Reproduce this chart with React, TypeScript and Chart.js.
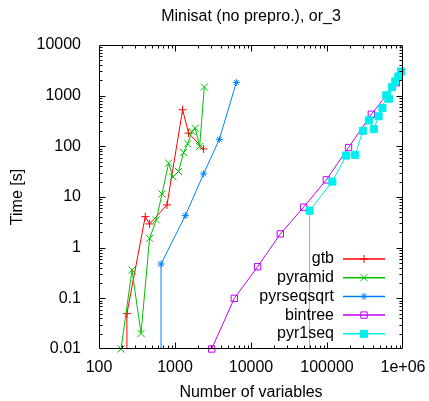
import { useEffect, useRef } from 'react';
import { Chart, registerables } from 'chart.js';
import { drawPoint } from 'chart.js/helpers';

Chart.register(...registerables);

// ---- data ----
const chartTitle = 'Minisat (no prepro.), or_3';
const xTitle = 'Number of variables';
const yTitle = 'Time [s]';

const xTickValues = [100, 1000, 10000, 100000, 1000000];
const xTickLabels = ['100', '1000', '10000', '100000', '1e+06'];
const yTickValues = [0.01, 0.1, 1, 10, 100, 1000, 10000];
const yTickLabels = ['0.01', '0.1', '1', '10', '100', '1000', '10000'];

// value below the plotted range (line runs off the bottom of the plot)
const belowRange = 0.0001;

const gtbX = [233, 406, 463, 785, 1259, 1510, 2377];
const gtbY = [0.05, 4.1, 2.94, 6.98, 526, 182, 89];

const pyramidX = [195, 272, 357, 463, 567, 674, 824, 942, 1114, 1297, 1465, 1675, 1849, 2108, 2431];
const pyramidY = [0.01, 0.362, 0.0203, 1.53, 3.53, 11.5, 46.6, 24.9, 31.8, 75.4, 112, 196, 229, 99, 1479];

const pyrseqsqrtX = [655, 1367, 2377, 3828, 6412];
const pyrseqsqrtY = [0.476, 4.29, 28.6, 137, 1823];

const bintreeX = [3034, 6026, 12220, 24300, 49200, 98000, 192000, 383000, 817000];
const bintreeY = [0.01, 0.1, 0.42, 1.87, 6.3, 21.8, 94.7, 429, 1800];

const pyr1seqX = [59000, 117500, 179000, 235000, 296000, 355000, 413000, 478000, 537000, 603000, 654000, 716000, 792000, 868000, 944000];
const pyr1seqY = [5.38, 20.1, 65.8, 67.9, 202, 326, 219, 392, 569, 1018, 869, 1466, 1909, 2396, 3008];

const seriesNames = ['gtb', 'pyramid', 'pyrseqsqrt', 'bintree', 'pyr1seq'];
const seriesColors = ['#ff0000', '#00c000', '#0080ff', '#c000ff', '#00eeee'];

const FONT = '"Liberation Sans", Arial, sans-serif';
const FS = 16;

type Style = { pointStyle: any; radius: number; filled: boolean };
const seriesStyles: Style[] = [
  { pointStyle: 'cross', radius: 4, filled: false },
  { pointStyle: 'crossRot', radius: 5, filled: false },
  { pointStyle: 'star', radius: 3.5, filled: false },
  { pointStyle: 'rect', radius: 4.5, filled: false },
  { pointStyle: 'rect', radius: 5, filled: true },
];

const pts = (xs: number[], ys: number[]) => xs.map((x, i) => ({ x, y: ys[i] }));

const decoPlugin = {
  id: 'gnuplotDeco',
  afterDraw(chart: any) {
    const { ctx, chartArea } = chart;
    const { left, right, top, bottom } = chartArea;
    const xs = chart.scales.x;
    const ys = chart.scales.y;
    ctx.save();
    ctx.strokeStyle = '#000';
    ctx.lineWidth = 1;
    const L = Math.round(left) + 0.5;
    const R = Math.round(right) - 0.5;
    const T = Math.round(top) + 0.5;
    const B = Math.round(bottom) - 0.5;
    ctx.beginPath();
    ctx.rect(L, T, R - L, B - T);
    ctx.stroke();

    // ticks
    ctx.beginPath();
    for (let d = 100; d <= 1000000; d *= 10) {
      for (let m = 1; m <= 9; m++) {
        const v = d * m;
        if (v > 1000000) break;
        const len = m === 1 ? 6 : 3;
        const px = Math.round(xs.getPixelForValue(v)) + 0.5;
        if (px <= L + 0.1 || px >= R - 0.1) continue;
        ctx.moveTo(px, B);
        ctx.lineTo(px, B - len);
        ctx.moveTo(px, T);
        ctx.lineTo(px, T + len);
      }
    }
    for (let d = 0.01; d <= 10000; d *= 10) {
      for (let m = 1; m <= 9; m++) {
        const v = d * m;
        if (v > 10001) break;
        const len = m === 1 ? 6 : 3;
        const py = Math.round(ys.getPixelForValue(v)) + 0.5;
        if (py <= T + 0.1 || py >= B - 0.1) continue;
        ctx.moveTo(L, py);
        ctx.lineTo(L + len, py);
        ctx.moveTo(R, py);
        ctx.lineTo(R - len, py);
      }
    }
    ctx.stroke();

    // titles
    ctx.fillStyle = '#000';
    ctx.font = `${FS}px ${FONT}`;
    ctx.textAlign = 'center';
    ctx.textBaseline = 'middle';
    const cx = (left + right) / 2;
    ctx.fillText(chartTitle, cx, 17);
    ctx.fillText(xTitle, cx, 393);
    ctx.save();
    ctx.translate(18, (top + bottom) / 2);
    ctx.rotate(-Math.PI / 2);
    ctx.fillText(yTitle, 0, 0);
    ctx.restore();

    // legend
    const textRight = 334;
    const lineX0 = 343;
    const lineX1 = 385;
    const markX = 364;
    seriesNames.forEach((name, i) => {
      const y = 259 + i * 18.7;
      ctx.fillStyle = '#000';
      ctx.textAlign = 'right';
      ctx.textBaseline = 'middle';
      ctx.fillText(name, textRight, y);
      ctx.strokeStyle = seriesColors[i];
      ctx.lineWidth = 1.5;
      ctx.beginPath();
      ctx.moveTo(lineX0, y);
      ctx.lineTo(lineX1, y);
      ctx.stroke();
      const st = seriesStyles[i];
      ctx.lineWidth = 1;
      ctx.fillStyle = st.filled ? seriesColors[i] : 'rgba(0,0,0,0)';
      ctx.strokeStyle = seriesColors[i];
      drawPoint(ctx, { pointStyle: st.pointStyle, radius: st.radius, rotation: 0, borderWidth: 1 } as any, markX, y);
    });
    ctx.restore();
  },
};

export default function App() {
  const ref = useRef<HTMLCanvasElement | null>(null);
  useEffect(() => {
    if (!ref.current) return;
    const mainSeries = [
      pts(gtbX, gtbY),
      pts(pyramidX, pyramidY),
      pts(pyrseqsqrtX, pyrseqsqrtY),
      pts(bintreeX, bintreeY),
      pts(pyr1seqX, pyr1seqY),
    ];
    // series whose first point lies below the plotted range
    const tails: Record<number, number> = { 0: gtbX[0], 2: pyrseqsqrtX[0], 4: pyr1seqX[0] };
    const datasets: any[] = [];
    mainSeries.forEach((data, i) => {
      const st = seriesStyles[i];
      datasets.push({
        label: seriesNames[i],
        data,
        borderColor: seriesColors[i],
        backgroundColor: seriesColors[i],
        borderWidth: 1,
        pointStyle: st.pointStyle,
        pointRadius: st.radius,
        pointBorderWidth: 1,
        pointBorderColor: seriesColors[i],
        pointBackgroundColor: st.filled ? seriesColors[i] : 'rgba(0,0,0,0)',
        tension: 0,
        clip: false,
        order: 10 - i,
      });
      if (tails[i] !== undefined) {
        datasets.push({
          label: seriesNames[i] + '-tail',
          data: [
            { x: tails[i], y: belowRange },
            data[0],
          ],
          borderColor: seriesColors[i],
          borderWidth: 1,
          pointRadius: 0,
          order: 20 - i,
        });
      }
    });

    const chart = new Chart(ref.current, {
      type: 'line',
      data: { datasets },
      plugins: [decoPlugin],
      options: {
        animation: false,
        responsive: false,
        devicePixelRatio: 1,
        layout: { padding: { top: 45, right: 26, bottom: 0, left: 0 } },
        plugins: { legend: { display: false }, title: { display: false }, tooltip: { enabled: false } },
        scales: {
          x: {
            type: 'logarithmic',
            min: 100,
            max: 1000000,
            grid: { display: false },
            border: { display: false },
            afterBuildTicks: (s: any) => {
              s.ticks = xTickValues.map((v) => ({ value: v }));
            },
            afterFit: (s: any) => {
              s.height = 52;
            },
            ticks: {
              autoSkip: false,
              maxRotation: 0,
              padding: 1,
              color: '#000',
              font: { family: FONT, size: FS },
              callback: (v: any) => {
                const k = xTickValues.indexOf(Number(v));
                return k >= 0 ? xTickLabels[k] : '';
              },
            },
          },
          y: {
            type: 'logarithmic',
            min: 0.01,
            max: 10000,
            grid: { display: false },
            border: { display: false },
            afterBuildTicks: (s: any) => {
              s.ticks = yTickValues.map((v) => ({ value: v }));
            },
            afterFit: (s: any) => {
              s.width = 99;
            },
            ticks: {
              autoSkip: false,
              padding: 10,
              color: '#000',
              font: { family: FONT, size: FS },
              callback: (v: any) => {
                const k = yTickValues.findIndex((t) => Math.abs(t - Number(v)) / t < 1e-6);
                return k >= 0 ? yTickLabels[k] : '';
              },
            },
          },
        },
      } as any,
    });
    return () => chart.destroy();
  }, []);

  return (
    <div style={{ position: 'fixed', left: 0, top: 0, width: 429, height: 401, background: '#fff' }}>
      <canvas ref={ref} width={429} height={401} style={{ display: 'block', width: 429, height: 401 }} />
    </div>
  );
}
